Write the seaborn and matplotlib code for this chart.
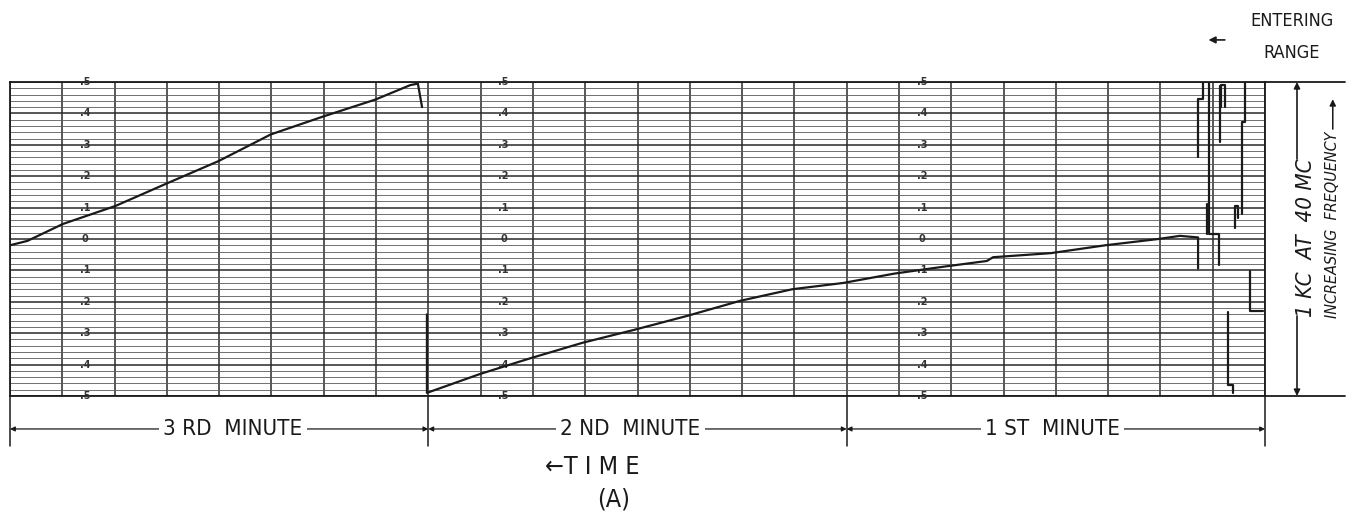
import numpy as np
import pandas as pd
import matplotlib
matplotlib.use("Agg")
import matplotlib.pyplot as plt
from matplotlib import font_manager as fm
import seaborn as sns

# ---------------- data ----------------
minute_labels = ["3 RD  MINUTE", "2 ND  MINUTE", "1 ST  MINUTE"]
minute_bounds = [180, 120, 60, 0]            # seconds before entering range
scale_values = [0.5, 0.4, 0.3, 0.2, 0.1, 0.0, -0.1, -0.2, -0.3, -0.4, -0.5]
scale_labels = [".5", ".4", ".3", ".2", ".1", "0", ".1", ".2", ".3", ".4", ".5"]

# slow sweep during the 3rd minute (kc from 40 MC)
sweep3_t = [180, 177.5, 172.4, 164.9, 157.4, 150.1, 142.6, 135.1, 127.6, 122.6, 121.5, 120.9]
sweep3_kc = [-0.02, -0.006, 0.048, 0.105, 0.178, 0.248, 0.333, 0.39, 0.444, 0.49, 0.495, 0.42]

# sweep after wrap-around (2nd and 1st minute)
sweep2_t = [120.2, 120.2, 112.6, 105.4, 97.8, 90.6, 82.9, 75.3, 67.8, 60.5, 53.1, 45.7,
            39.9, 39.0, 30.7, 22.9, 15.3, 12.2, 9.6, 9.6]
sweep2_kc = [-0.24, -0.49, -0.43, -0.38, -0.33, -0.29, -0.245, -0.197, -0.16, -0.14, -0.11,
             -0.087, -0.07, -0.058, -0.045, -0.02, 0.0, 0.01, 0.005, -0.094]

# erratic jumps while entering range
jump_a_t = [9.6, 9.6, 8.9, 8.9]
jump_a_kc = [0.26, 0.445, 0.445, 0.5]
jump_b_t = [8.0, 8.0, 6.6, 6.6]
jump_b_kc = [0.5, 0.016, 0.016, -0.084]
jump_c_t = [8.3, 8.3]
jump_c_kc = [0.113, 0.016]
jump_d_t = [6.45, 6.45]
jump_d_kc = [0.487, 0.31]
jump_e_t = [6.3, 6.3, 5.7, 5.7]
jump_e_kc = [0.42, 0.49, 0.49, 0.42]
jump_f_t = [2.9, 2.9, 3.3, 3.3]
jump_f_kc = [0.5, 0.374, 0.374, 0.08]
jump_g_t = [4.3, 4.3, 3.9, 3.9]
jump_g_kc = [0.035, 0.106, 0.106, 0.068]
jump_h_t = [2.15, 2.15, 0.3]
jump_h_kc = [-0.103, -0.23, -0.23]
jump_i_t = [5.3, 5.3, 4.6, 4.6]
jump_i_kc = [-0.232, -0.465, -0.465, -0.49]

segments = [(sweep3_t, sweep3_kc), (sweep2_t, sweep2_kc),
            (jump_a_t, jump_a_kc), (jump_b_t, jump_b_kc), (jump_c_t, jump_c_kc),
            (jump_d_t, jump_d_kc), (jump_e_t, jump_e_kc), (jump_f_t, jump_f_kc),
            (jump_g_t, jump_g_kc), (jump_h_t, jump_h_kc), (jump_i_t, jump_i_kc)]
frames = []
for i, (t, k) in enumerate(segments):
    frames.append(pd.DataFrame({"t": t, "kc": k, "seg": i}))
df = pd.concat(frames, ignore_index=True)

# ---------------- style ----------------
sns.set_style("white")
names = {f.name for f in fm.fontManager.ttflist}
cond = "Liberation Sans Narrow" if "Liberation Sans Narrow" in names else "DejaVu Sans"
FAM = [cond, "DejaVu Sans"]
plt.rcParams["font.family"] = FAM
INK = "#1a1a1a"

fig = plt.figure(figsize=(13.53, 5.23), dpi=100)
fig.patch.set_facecolor("white")
W, H = 1353, 523
ax = fig.add_axes([10 / W, 127 / H, 1255 / W, 314 / H])

sns.lineplot(data=df, x="t", y="kc", units="seg", estimator=None, sort=False,
             color=INK, lw=1.6, ax=ax, legend=False, zorder=4)

ax.set_xlim(180, 0)
ax.set_ylim(-0.5, 0.5)
ax.set_xticks(np.arange(0, 180.1, 7.5))
ax.set_yticks(scale_values)
ax.set_yticks(np.arange(-0.5, 0.5001, 0.02), minor=True)
ax.grid(which="major", axis="both", color="#2a2a2a", lw=1.1)
ax.grid(which="minor", axis="y", color="#5a5a5a", lw=0.6)
ax.tick_params(which="both", length=0, labelbottom=False, labelleft=False)
ax.set_xlabel("")
ax.set_ylabel("")
for s in ax.spines.values():
    s.set_color(INK)
    s.set_linewidth(1.3)

# scale labels inside each minute
for start in minute_bounds[:-1]:
    for v, lab in zip(scale_values, scale_labels):
        ax.text(start - 10.8, v, lab, ha="center", va="center", fontsize=7,
                fontweight="bold", color="#333333", family=["DejaVu Sans"], zorder=3)

# ---------------- annotations below ----------------
trans = ax.get_xaxis_transform()
for b in minute_bounds:
    ax.plot([b, b], [0, -0.16], transform=trans, color=INK, lw=1.1, clip_on=False)

label_centers = [148, 91, 30.5]
yb = -0.105
for i, lab in enumerate(minute_labels):
    s, e, c = minute_bounds[i], minute_bounds[i + 1], label_centers[i]
    for end in (s, e):
        ax.annotate("", xy=(end, yb), xytext=(c, yb), xycoords=trans, textcoords=trans,
                    arrowprops=dict(arrowstyle="-|>", color=INK, lw=0.9,
                                    mutation_scale=7, shrinkA=0, shrinkB=0))
    ax.text(c, yb, lab, transform=trans, ha="center", va="center", fontsize=16,
            color=INK, family=FAM, fontstretch="condensed", zorder=6,
            bbox=dict(facecolor="white", edgecolor="none", pad=3))

ax.text(0.464, -0.225, "←T I M E", transform=ax.transAxes, ha="center", va="center",
        fontsize=18, color=INK, family=FAM, fontstretch="condensed")
ax.text(0.481, -0.33, "(A)", transform=ax.transAxes, ha="center", va="center",
        fontsize=18, color=INK, family=FAM, fontstretch="condensed")

# ---------------- annotations right / top ----------------
for yy in (0, 1):
    ax.plot([1, 1.064], [yy, yy], transform=ax.transAxes, color=INK, lw=1.3, clip_on=False)
xd = 1.0255
ax.annotate("", xy=(xd, 1), xytext=(xd, 0.755), xycoords=ax.transAxes,
            arrowprops=dict(arrowstyle="-|>", color=INK, lw=1.2, mutation_scale=9,
                            shrinkA=0, shrinkB=0))
ax.annotate("", xy=(xd, 0), xytext=(xd, 0.255), xycoords=ax.transAxes,
            arrowprops=dict(arrowstyle="-|>", color=INK, lw=1.2, mutation_scale=9,
                            shrinkA=0, shrinkB=0))
ax.text(1.033, 0.505, "1 KC  AT  40 MC", transform=ax.transAxes, rotation=90,
        ha="center", va="center", fontsize=16, style="italic", color=INK,
        family=FAM, fontstretch="condensed")
ax.text(1.054, 0.545, "INCREASING  FREQUENCY", transform=ax.transAxes, rotation=90,
        ha="center", va="center", fontsize=11.5, style="italic", color=INK,
        family=FAM, fontstretch="condensed")
ax.annotate("", xy=(1.054, 0.945), xytext=(1.054, 0.85), xycoords=ax.transAxes,
            arrowprops=dict(arrowstyle="-|>", color=INK, lw=1.1, mutation_scale=9,
                            shrinkA=0, shrinkB=0))

ax.text(1.0215, 1.195, "ENTERING", transform=ax.transAxes, ha="center", va="center",
        fontsize=13, color=INK, family=FAM, fontstretch="condensed")
ax.text(1.0215, 1.093, "RANGE", transform=ax.transAxes, ha="center", va="center",
        fontsize=13, color=INK, family=FAM, fontstretch="condensed")
ax.annotate("", xy=(0.955, 1.134), xytext=(0.968, 1.134), xycoords=ax.transAxes,
            arrowprops=dict(arrowstyle="-|>", color=INK, lw=1.2, mutation_scale=10,
                            shrinkA=0, shrinkB=0))

fig.savefig("out.png", dpi=100, facecolor="white")
